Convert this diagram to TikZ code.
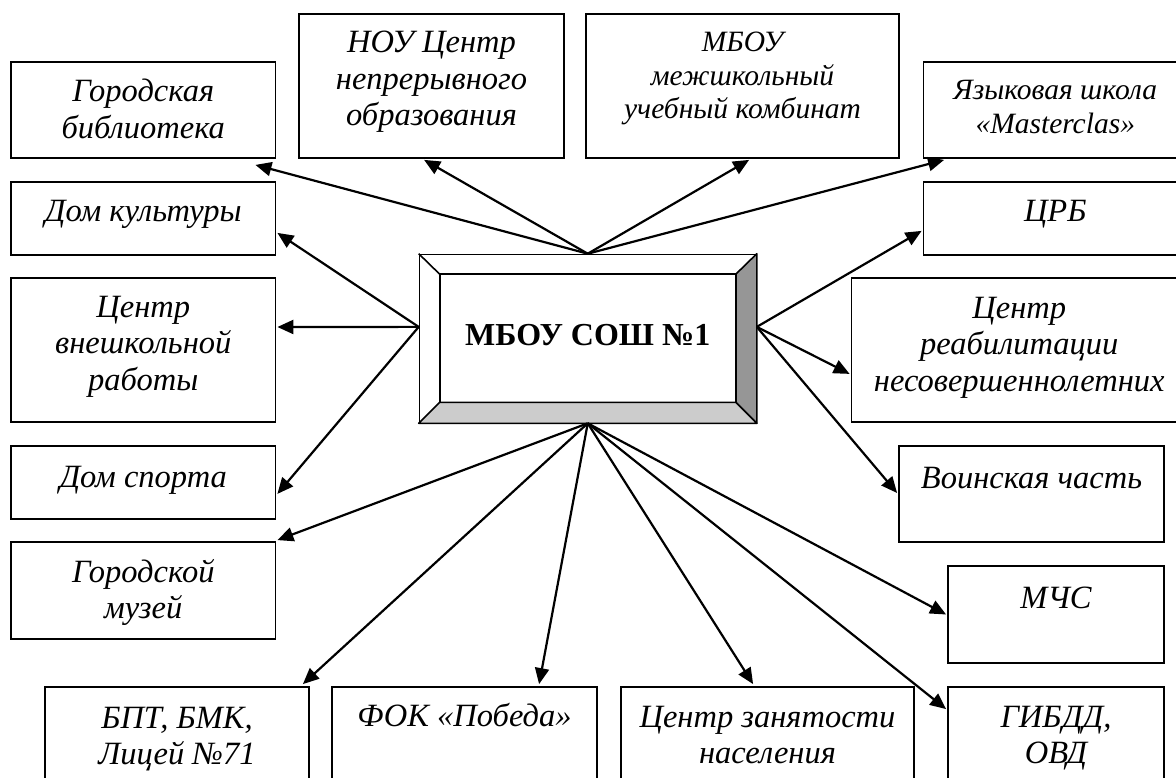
\documentclass[tikz,border=0pt]{standalone}
\usepackage{fontspec}
\setmainfont{Liberation Serif}
\usetikzlibrary{arrows.meta,calc}
\newcommand\bx[4]{\parbox[c][#2pt][t]{#1pt}{\centering\rule{0pt}{#3pt}#4}}
\definecolor{bevdark}{RGB}{150,150,150}
\definecolor{bevlight}{RGB}{204,204,204}
\begin{document}
\begin{tikzpicture}[x=1pt,y=-1pt,
  box/.style={draw, line width=1.8pt, inner sep=0pt, font=\fontsize{32.5pt}{36.5pt}\selectfont\itshape},
  smallfont/.style={font=\fontsize{29.5pt}{33.5pt}\selectfont\itshape},
  arr/.style={line width=2.2pt, -{Triangle[length=16pt,width=14pt]}},
  bev/.style={line width=1.6pt, line join=round}]
\useasboundingbox (0,0) rectangle (1176,778);
\fill[white] (0,0) rectangle (1176,778);
\clip (0,0) rectangle (1176,778);

% outer boxes
\node[box] (gb)    at (143.25,110)   {\bx{264.5}{96}{40}{Городская\\библиотека}};
\node[box] (nou)   at (431.5,86)     {\bx{265}{144}{39}{НОУ Центр\\непрерывного\\образования}};
\node[box,smallfont] (mboy) at (742.5,86) {\bx{313}{144}{38}{МБОУ\\межшкольный\\учебный комбинат}};
\node[box,smallfont] (yaz)  at (1055.25,110) {\bx{263.5}{96}{38}{Языковая школа\\«Masterclas»}};
\node[box] (crb)   at (1055.25,218.5) {\bx{263.5}{73}{40}{ЦРБ}};
\node[box] (creab) at (1019.25,350)  {\bx{335.5}{144}{40}{Центр\\реабилитации\\несовершеннолетних}};
\node[box] (dk)    at (143.25,218.5) {\bx{264.5}{73}{40}{Дом культуры}};
\node[box] (cvr)   at (143.25,350)   {\bx{264.5}{144}{39}{Центр\\внешкольной\\работы}};
\node[box] (ds)    at (143.25,482.5) {\bx{264.5}{73}{41}{Дом спорта}};
\node[box] (muz)   at (143.25,590.5) {\bx{264.5}{97}{40}{Городской\\музей}};
\node[box] (bpt)   at (177,735)      {\bx{264}{96}{41}{БПТ, БМК,\\Лицей №71}};
\node[box] (fok)   at (464.5,735)    {\bx{265}{96}{39}{ФОК «Победа»}};
\node[box] (czn)   at (767.5,735)    {\bx{293}{96}{40}{Центр занятости\\населения}};
\node[box] (gibdd) at (1056,735)     {\bx{216}{96}{40}{ГИБДД,\\ОВД}};
\node[box] (voin)  at (1031.5,494)   {\bx{265}{96}{42}{Воинская часть}};
\node[box] (mchs)  at (1056,614.5)   {\bx{216}{97}{42}{МЧС}};

% central box
\node[draw, line width=1.6pt, inner sep=0pt, font=\fontsize{32pt}{38pt}\selectfont\bfseries] (main) at (587.75,338.5) {\bx{336.5}{168}{90.5}{МБОУ СОШ №1}};
\coordinate (iNW) at ($(main.north west)+(21,20.5)$);
\coordinate (iNE) at ($(main.north east)+(-21,20.5)$);
\coordinate (iSW) at ($(main.south west)+(21,-21)$);
\coordinate (iSE) at ($(main.south east)+(-21,-21)$);
\filldraw[bev, fill=bevdark] (main.north east) -- (main.south east) -- (iSE) -- (iNE) -- cycle;
\filldraw[bev, fill=bevlight] (main.south west) -- (main.south east) -- (iSE) -- (iSW) -- cycle;
\draw[bev] (iNW) rectangle (iSE);
\draw[bev] (main.north west) -- (iNW);

% connector sources
\coordinate (mL) at ($(main.north west)!0.4315!(main.south west)$);
\coordinate (mR) at ($(main.north east)!0.4315!(main.south east)$);

% connector targets
\coordinate (tgb)    at ($(gb.south east)+(-21,6)$);
\coordinate (tnou)   at ($(nou.south west)+(126,1)$);
\coordinate (tmboy)  at ($(mboy.south west)+(164,1)$);
\coordinate (tyaz)   at ($(yaz.south west)+(21.5,1)$);
\coordinate (tdk)    at ($(dk.south east)+(1,-23)$);
\coordinate (tcvr)   at ($(cvr.east)+(1,-23)$);
\coordinate (tds)    at ($(ds.south east)+(1,-26)$);
\coordinate (tcrb)   at ($(crb.south west)+(-1,-25)$);
\coordinate (tcreab) at ($(creab.south west)+(-1,-49)$);
\coordinate (tvoin)  at ($(voin.west)+(-1,-1)$);
\coordinate (tmuz)   at ($(muz.north east)+(1,-1)$);
\coordinate (tbpt)   at ($(bpt.north east)+(-7,-2)$);
\coordinate (tfok)   at ($(fok.north west)+(208,-2)$);
\coordinate (tczn)   at ($(czn.north west)+(133,-2)$);
\coordinate (tmchs)  at ($(mchs.west)+(-1,0)$);
\coordinate (tgibdd) at ($(gibdd.north west)+(-1,23)$);

\draw[arr] (main.north) -- (tgb);
\draw[arr] (main.north) -- (tnou);
\draw[arr] (main.north) -- (tmboy);
\draw[arr] (main.north) -- (tyaz);
\draw[arr] (mL) -- (tdk);
\draw[arr] (mL) -- (tcvr);
\draw[arr] (mL) -- (tds);
\draw[arr] (mR) -- (tcrb);
\draw[arr] (mR) -- (tcreab);
\draw[arr] (mR) -- (tvoin);
\draw[arr] (main.south) -- (tmuz);
\draw[arr] (main.south) -- (tbpt);
\draw[arr] (main.south) -- (tfok);
\draw[arr] (main.south) -- (tczn);
\draw[arr] (main.south) -- (tmchs);
\draw[arr] (main.south) -- (tgibdd);
\end{tikzpicture}
\end{document}
